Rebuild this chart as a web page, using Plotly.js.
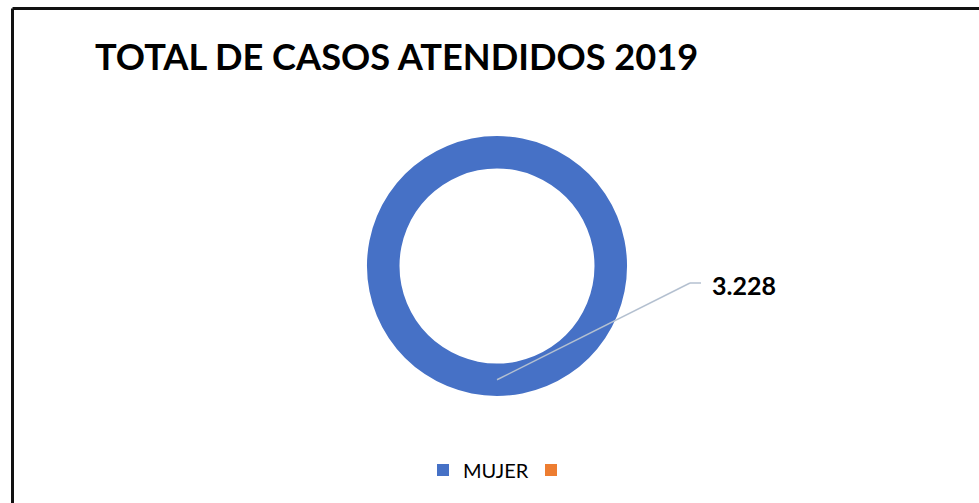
<!DOCTYPE html>
<html><head><meta charset="utf-8">
<script src="https://cdn.plot.ly/plotly-3.0.1.min.js"></script>
<style>html,body{margin:0;padding:0;background:#fff}#chart{width:979px;height:503px}</style>
</head><body><div id="chart"></div>
<script>
// Data
const categories = ['MUJER', ' '];
const values = [3228, 0];
const sliceColors = ['#4671c6', '#ed7d31'];
const chartTitle = 'TOTAL DE CASOS ATENDIDOS 2019';

const W = 979, H = 503;
// donut geometry (pixels)
const cx = 497, cy = 266, R = 130, hole = 0.75;
const dom = {x: [(cx - R) / W, (cx + R) / W], y: [(H - cy - R) / H, (H - cy + R) / H]};
const midR = R * (1 + hole) / 2;
const headX = cx, headY = cy + midR;          // leader start (bottom of ring)
const bendX = 690, bendY = 283, endX = 701;   // leader bend / end
const px = x => x / W, py = y => 1 - y / H;

const fmt = v => v.toLocaleString('de-DE');

const trace = {
  type: 'pie', labels: categories, values: values, hole: hole,
  sort: false, direction: 'clockwise',
  marker: {colors: sliceColors, line: {width: 0}},
  textinfo: 'none', hoverinfo: 'label+value',
  domain: dom, showlegend: true
};

const layout = {
  width: W, height: H,
  margin: {l: 0, r: 0, t: 0, b: 0},
  paper_bgcolor: '#fff',
  font: {family: 'Lato, "Open Sans", sans-serif', color: '#000'},
  title: {text: '<b>' + chartTitle + '</b>', x: px(95), xanchor: 'left', xref: 'paper',
          y: py(57), yanchor: 'middle', yref: 'container',
          font: {size: 36.2, color: '#000', family: 'Lato, sans-serif'}},
  showlegend: true,
  legend: {orientation: 'h', x: px(423), xanchor: 'left', y: py(470), yanchor: 'middle',
           font: {size: 20, color: '#000', family: 'Lato, sans-serif'},
           entrywidth: 63, entrywidthmode: 'pixels',
           itemwidth: 30, itemsizing: 'constant', traceorder: 'normal'},
  annotations: [{
    xref: 'paper', yref: 'paper', x: px(710), y: py(285), xanchor: 'left', yanchor: 'middle',
    text: '<b>' + fmt(values[0]) + '</b>', showarrow: false,
    font: {size: 25, color: '#000', family: 'Lato, sans-serif'}
  }],
  shapes: [
    {type: 'line', xref: 'paper', yref: 'paper', x0: px(headX), y0: py(headY), x1: px(bendX), y1: py(bendY),
     line: {color: '#b4c0d0', width: 1.5}},
    {type: 'line', xref: 'paper', yref: 'paper', x0: px(bendX), y0: py(bendY), x1: px(endX), y1: py(bendY),
     line: {color: '#b4c0d0', width: 1.5}},
    {type: 'line', xref: 'paper', yref: 'paper', x0: px(12.5), y0: py(8.5), x1: 1, y1: py(8.5),
     line: {color: '#111', width: 3}},
    {type: 'line', xref: 'paper', yref: 'paper', x0: px(12.5), y0: py(8.5), x1: px(12.5), y1: 0,
     line: {color: '#111', width: 3}}
  ]
};
Plotly.newPlot('chart', [trace], layout, {displayModeBar: false, staticPlot: true});
</script></body></html>
